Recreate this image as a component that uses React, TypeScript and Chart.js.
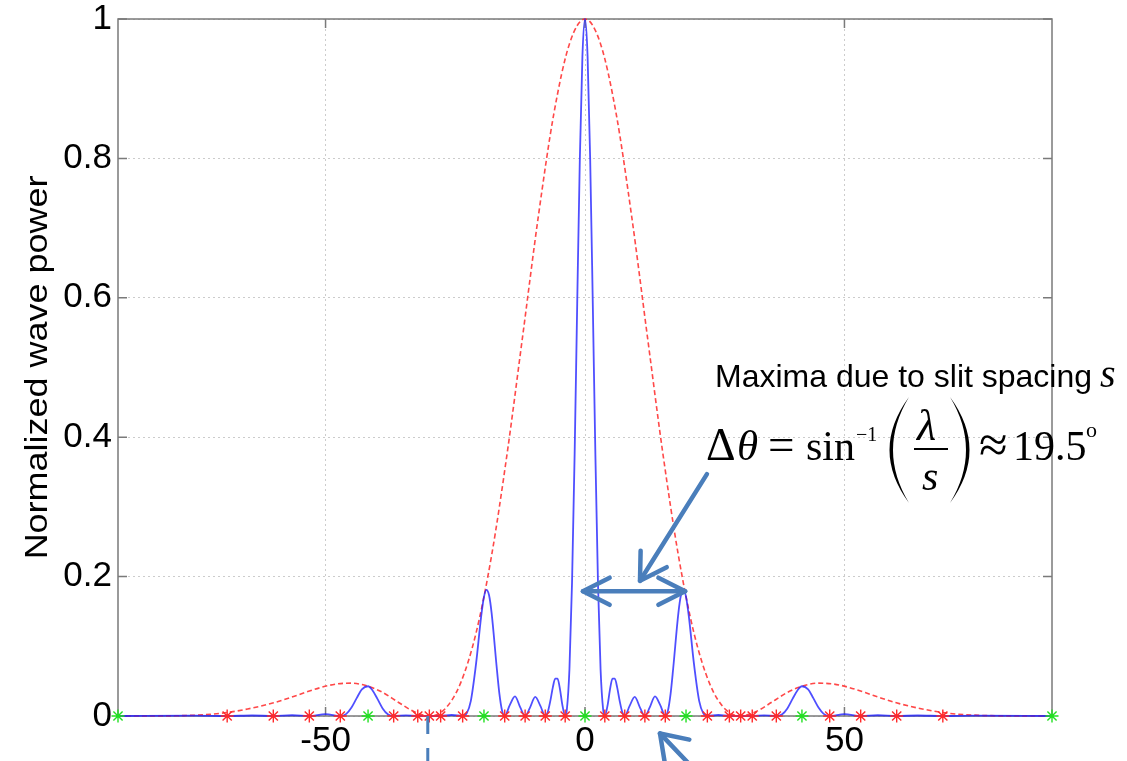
import React, { useEffect, useRef } from "react";
import { Chart, registerables } from "chart.js";

Chart.register(...registerables);

// Angle (degrees) samples of the multi-slit pattern
const patternAngles = [
  -90, -75.2, -68.96, -64.16, -60.07, -56.44, -53.13, -50, -47.16, -46, -45, -44, -43, -41.81, -41, -40, -39, -38,
  -36.87, -34.5, -32.23, -30, -27.82, -25.7, -23.58, -22.8, -22, -21, -20, -19.47, -19, -18.5, -18, -17, -16.5, -16,
  -15.47, -14.5, -13.49, -12.5, -11.54, -10.6, -9.59, -8.6, -7.66, -7.2, -6.7, -6.2, -5.74, -5.3, -4.78, -4.4,
  -3.82, -3.5, -3, -2.5, -2, -1.5, -1, -0.5, 0, 0.5, 1, 1.5, 2, 2.5, 3, 3.5, 3.82,
  4.4, 4.78, 5.3, 5.74, 6.2, 6.7, 7.2, 7.66, 8.6, 9.59, 10.6, 11.54, 12.5, 13.49, 14.5, 15.47,
  16, 16.5, 17, 18, 18.5, 19, 19.47, 20, 21, 22, 22.8, 23.58, 25.7, 27.82, 30, 32.23, 34.5, 36.87,
  38, 39, 40, 41, 41.81, 43, 44, 45, 46, 47.16, 50, 53.13, 56.44, 60.07, 64.16, 68.96, 75.2, 90,
];
const patternPower = [
  0, 0.0005, 0, 0.0007, 0, 0.0011, 0, 0.0026, 0, 0.0031, 0.0122, 0.0256, 0.0382, 0.0427, 0.0374, 0.0246, 0.0109, 0.0025,
  0, 0.0008, 0, 0, 0, 0.0014, 0, 0.0037, 0.0217, 0.0747, 0.1436, 0.171, 0.181, 0.1735, 0.148, 0.0685, 0.032, 0.0082,
  0, 0.0157, 0.0281, 0.0127, 0, 0.0121, 0.0274, 0.0145, 0, 0.0052, 0.021, 0.041, 0.0535, 0.0535, 0.0365, 0.0175,
  0, 0.009, 0.067, 0.191, 0.375, 0.592, 0.798, 0.946, 1.0, 0.946, 0.798, 0.592, 0.375, 0.191, 0.067, 0.009, 0,
  0.0175, 0.0365, 0.0535, 0.0535, 0.041, 0.021, 0.0052, 0, 0.0145, 0.0274, 0.0121, 0, 0.0127, 0.0281, 0.0157, 0,
  0.0082, 0.032, 0.0685, 0.148, 0.1735, 0.181, 0.171, 0.1436, 0.0747, 0.0217, 0.0037, 0, 0.0014, 0, 0, 0, 0.0008, 0,
  0.0025, 0.0109, 0.0246, 0.0374, 0.0427, 0.0382, 0.0256, 0.0122, 0.0031, 0, 0.0026, 0, 0.0011, 0, 0.0007, 0, 0.0005, 0,
];

// Single-slit envelope (red dashed)
const envelopeAngles = [
  -90, -85, -80, -75, -70, -65, -60, -57, -54, -51, -48, -45, -42, -39, -36, -33, -30, -27, -24, -21, -18, -15, -12, -9, -6, -3,
  0, 3, 6, 9, 12, 15, 18, 21, 24, 27, 30, 33, 36, 39, 42, 45, 48, 51, 54, 57, 60, 65, 70, 75, 80, 85, 90,
];
const envelopePower = [
  0, 0.00002, 0.00024, 0.0012, 0.004, 0.0101, 0.0189, 0.0259, 0.0336, 0.0407, 0.0458, 0.0471, 0.0431, 0.0339, 0.0198, 0.0065,
  0, 0.01, 0.0468, 0.119, 0.2303, 0.377, 0.5458, 0.7165, 0.8643, 0.9643,
  1, 0.9643, 0.8643, 0.7165, 0.5458, 0.377, 0.2303, 0.119, 0.0468, 0.01, 0, 0.0065, 0.0198, 0.0339, 0.0431, 0.0471, 0.0458,
  0.0407, 0.0336, 0.0259, 0.0189, 0.0101, 0.004, 0.0012, 0.00024, 0.00002, 0,
];

// Markers on the zero line
const zeroAngles = [
  -68.96, -60.07, -53.13, -47.16, -36.87, -32.23, -30, -27.82, -23.58, -15.47, -11.54, -7.66, -3.82,
  3.82, 7.66, 11.54, 15.47, 23.58, 27.82, 30, 32.23, 36.87, 47.16, 53.13, 60.07, 68.96,
];
const maximaAngles = [-90, -41.81, -19.47, 0, 19.47, 41.81, 90];

const xTickValues = [-50, 0, 50];
const yTickValues = [0, 0.2, 0.4, 0.6, 0.8, 1];

const yTitle = "Normalized wave power";
const noteText = "Maxima due to slit spacing ";

const ARROW = "#4a7ebb";

function arrowHead(ctx: CanvasRenderingContext2D, tx: number, ty: number, fx: number, fy: number, len = 30, ang = 0.52) {
  const a = Math.atan2(fy - ty, fx - tx);
  ctx.beginPath();
  ctx.moveTo(tx + len * Math.cos(a + ang), ty + len * Math.sin(a + ang));
  ctx.lineTo(tx, ty);
  ctx.lineTo(tx + len * Math.cos(a - ang), ty + len * Math.sin(a - ang));
  ctx.stroke();
}

function paren(ctx: CanvasRenderingContext2D, xEnd: number, yTop: number, yBot: number, outer: number, inner: number) {
  const midY = (yTop + yBot) / 2;
  ctx.beginPath();
  ctx.moveTo(xEnd, yTop);
  ctx.quadraticCurveTo(outer, midY, xEnd, yBot);
  ctx.quadraticCurveTo(inner, midY, xEnd, yTop);
  ctx.fill();
}

const overlayPlugin = {
  id: "overlay",
  beforeDatasetsDraw(chart: any) {
    const { ctx, chartArea: a, scales } = chart;
    const xs = scales.x;
    const ys = scales.y;
    ctx.save();
    ctx.strokeStyle = "#7a7a7a";
    ctx.lineWidth = 1.5;
    ctx.strokeRect(a.left, a.top, a.right - a.left, a.bottom - a.top);
    ctx.beginPath();
    for (const v of xTickValues) {
      const px = xs.getPixelForValue(v);
      ctx.moveTo(px, a.bottom);
      ctx.lineTo(px, a.bottom - 9);
      ctx.moveTo(px, a.top);
      ctx.lineTo(px, a.top + 9);
    }
    for (const v of yTickValues) {
      const py = ys.getPixelForValue(v);
      ctx.moveTo(a.left, py);
      ctx.lineTo(a.left + 9, py);
      ctx.moveTo(a.right, py);
      ctx.lineTo(a.right - 9, py);
    }
    ctx.stroke();
    ctx.restore();
  },
  afterDraw(chart: any) {
    const { ctx, scales } = chart;
    const xs = scales.x;
    const ys = scales.y;
    const X = (v: number) => xs.getPixelForValue(v);
    const Y = (v: number) => ys.getPixelForValue(v);
    ctx.save();

    // y-axis title
    ctx.save();
    ctx.translate(38, (chart.chartArea.top + chart.chartArea.bottom) / 2);
    ctx.rotate(-Math.PI / 2);
    ctx.scale(1.16, 1);
    ctx.fillStyle = "#000";
    ctx.font = '31px "Liberation Sans", Arial, sans-serif';
    ctx.textAlign = "center";
    ctx.textBaseline = "middle";
    ctx.fillText(yTitle, 0, 0);
    ctx.restore();

    // arrows
    ctx.strokeStyle = ARROW;
    ctx.fillStyle = ARROW;
    ctx.lineWidth = 4.5;
    ctx.lineCap = "round";
    ctx.lineJoin = "round";

    // double-headed arrow between the central and first-order maxima
    const y1 = Y(0.179);
    const xl = X(-0.4);
    const xr = X(19.3);
    ctx.beginPath();
    ctx.moveTo(xl, y1);
    ctx.lineTo(xr, y1);
    ctx.stroke();
    arrowHead(ctx, xl, y1, xr, y1, 30, 0.47);
    arrowHead(ctx, xr, y1, xl, y1, 30, 0.47);

    // diagonal arrow from the formula
    const tx = X(10.6), ty = Y(0.194), fx = X(23.5), fy = Y(0.347);
    ctx.beginPath();
    ctx.moveTo(fx, fy);
    ctx.lineTo(tx, ty);
    ctx.stroke();
    arrowHead(ctx, tx, ty, fx, fy, 30, 0.54);

    // bottom arrow
    const bx = X(14.45), by = Y(-0.025);
    ctx.beginPath();
    ctx.moveTo(bx + 42, by + 44);
    ctx.lineTo(bx, by);
    ctx.stroke();
    arrowHead(ctx, bx, by, bx + 42, by + 44, 30, 0.6);

    // dashed marker below the axis at the envelope zero
    ctx.lineWidth = 3;
    ctx.lineCap = "butt";
    ctx.setLineDash([18, 14]);
    ctx.beginPath();
    ctx.moveTo(X(-30.3), Y(0));
    ctx.lineTo(X(-30.3), 761);
    ctx.stroke();
    ctx.setLineDash([]);

    // note text
    ctx.fillStyle = "#000";
    ctx.textAlign = "left";
    ctx.textBaseline = "alphabetic";
    ctx.font = '32px "Liberation Sans", Arial, sans-serif';
    ctx.fillText(noteText, 715, 387);
    ctx.font = 'italic 40px "Liberation Serif", "Times New Roman", serif';
    ctx.fillText("s", 1100, 387);

    // formula
    const serif = '"Liberation Serif", "Times New Roman", serif';
    ctx.font = `46px ${serif}`;
    ctx.fillText("\u0394", 706, 460);
    ctx.font = `italic 43px ${serif}`;
    ctx.fillText("\u03b8", 737, 460);
    ctx.font = `47px ${serif}`;
    ctx.fillText("=", 768, 460);
    ctx.font = `42px ${serif}`;
    ctx.fillText("sin", 806, 460);
    ctx.font = `20px ${serif}`;
    ctx.fillText("\u22121", 856, 441);
    paren(ctx, 909, 397, 503, 870, 877);
    ctx.font = `italic 44px ${serif}`;
    ctx.fillText("\u03bb", 917, 440);
    ctx.fillRect(914, 448, 34, 2);
    ctx.font = `italic 42px ${serif}`;
    ctx.fillText("s", 922, 490);
    paren(ctx, 950, 397, 503, 989, 982);
    ctx.font = `52px ${serif}`;
    ctx.fillText("\u2248", 979, 462);
    ctx.font = `42px ${serif}`;
    ctx.fillText("19.5", 1013, 460);
    ctx.font = `22px ${serif}`;
    ctx.fillText("o", 1086, 437);

    ctx.restore();
  },
};

export default function App() {
  const canvasRef = useRef<HTMLCanvasElement | null>(null);

  useEffect(() => {
    const canvas = canvasRef.current;
    if (!canvas) return;
    const tickFont = { family: '"Liberation Sans", Arial, sans-serif', size: 35 };
    const chart = new Chart(canvas, {
      type: "scatter",
      data: {
        datasets: [
          {
            label: "zeros",
            data: zeroAngles.map((a) => ({ x: a, y: 0 })),
            pointStyle: "star",
            pointRadius: 6.5,
            pointBorderWidth: 1.4,
            pointBorderColor: "#ff2a2a",
            pointBackgroundColor: "#ff2a2a",
            showLine: false,
            clip: false,
            order: 0,
          },
          {
            label: "maxima",
            data: maximaAngles.map((a) => ({ x: a, y: 0 })),
            pointStyle: "star",
            pointRadius: 6.5,
            pointBorderWidth: 1.4,
            pointBorderColor: "#22e022",
            pointBackgroundColor: "#22e022",
            showLine: false,
            clip: false,
            order: 0,
          },
          {
            label: "pattern",
            data: patternAngles.map((a, i) => ({ x: a, y: patternPower[i] })),
            showLine: true,
            borderColor: "rgba(30,30,255,0.78)",
            borderWidth: 1.8,
            pointRadius: 0,
            cubicInterpolationMode: "monotone",
            clip: false,
            order: 1,
          },
          {
            label: "envelope",
            data: envelopeAngles.map((a, i) => ({ x: a, y: envelopePower[i] })),
            showLine: true,
            borderColor: "rgba(255,40,40,0.85)",
            borderWidth: 1.6,
            borderDash: [5, 3],
            pointRadius: 0,
            cubicInterpolationMode: "monotone",
            clip: false,
            order: 2,
          },
        ],
      },
      options: {
        animation: false,
        responsive: true,
        maintainAspectRatio: false,
        layout: { padding: { left: 0, top: 19, right: 75, bottom: 0 } },
        plugins: { legend: { display: false }, tooltip: { enabled: false } },
        scales: {
          x: {
            type: "linear",
            min: -90,
            max: 90,
            afterBuildTicks: (s: any) => {
              s.ticks = xTickValues.map((v) => ({ value: v }));
            },
            afterFit: (s: any) => {
              s.height = 45;
              s.paddingLeft = 0;
              s.paddingRight = 0;
            },
            ticks: { font: tickFont, color: "#000", padding: 4, maxRotation: 0, autoSkip: false },
            grid: { color: "#cccccc", lineWidth: 1, drawTicks: false },
            border: { display: false, dash: [2, 3] },
          },
          y: {
            type: "linear",
            min: 0,
            max: 1,
            afterBuildTicks: (s: any) => {
              s.ticks = yTickValues.map((v) => ({ value: v }));
            },
            afterFit: (s: any) => {
              s.width = 118;
              s.paddingTop = 0;
              s.paddingBottom = 0;
            },
            ticks: {
              font: tickFont,
              color: "#000",
              padding: 6,
              callback: (v: any) => String(v),
            },
            grid: { color: "#cccccc", lineWidth: 1, drawTicks: false },
            border: { display: false, dash: [2, 3] },
          },
        },
      },
      plugins: [overlayPlugin],
    });
    return () => chart.destroy();
  }, []);

  return (
    <div style={{ position: "absolute", left: 0, top: 0, width: 1127, height: 761, background: "#fff" }}>
      <canvas ref={canvasRef} />
    </div>
  );
}
